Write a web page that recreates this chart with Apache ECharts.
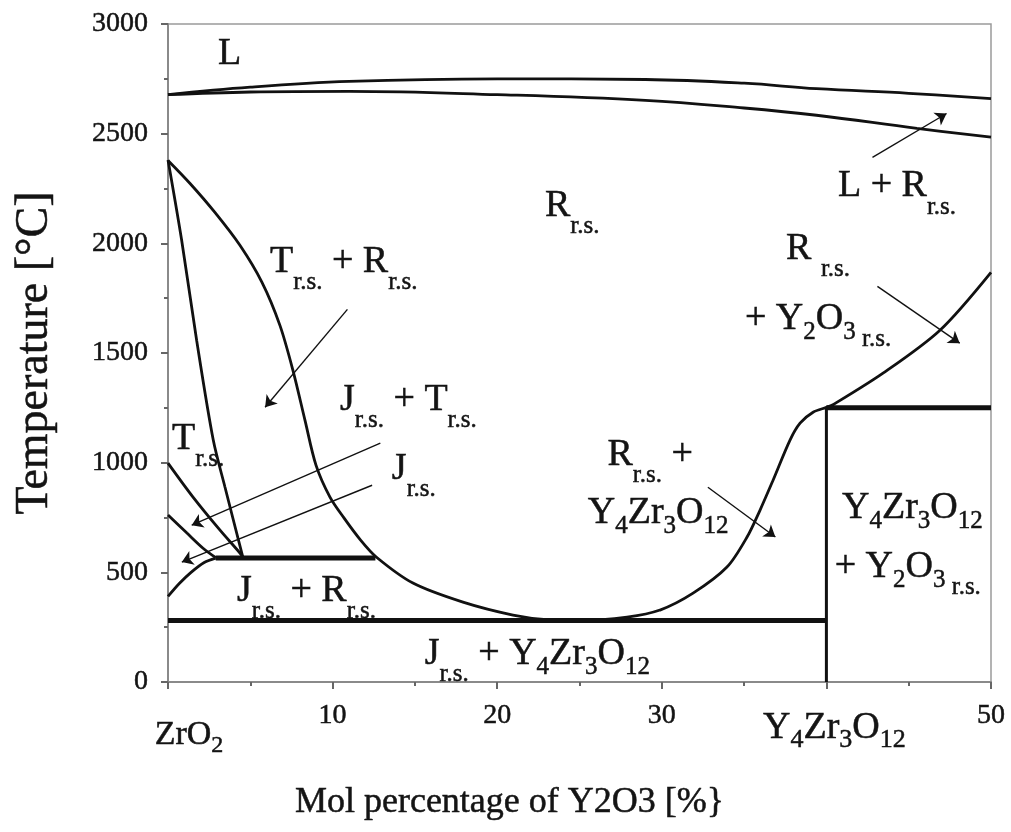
<!DOCTYPE html>
<html>
<head>
<meta charset="utf-8">
<script src="https://cdn.jsdelivr.net/npm/echarts@6.0.0/dist/echarts.min.js"></script>
<style>
  html, body { margin: 0; padding: 0; background: #fff; }
  #chart { width: 1011px; height: 832px; }
</style>
</head>
<body>
<div id="chart"></div>
<script>
// ZrO2 – Y2O3 phase diagram (0–50 mol% Y2O3)
const FONT = '"Liberation Serif", "Times New Roman", serif';

// Liquidus and solidus near the top
const liquidus = [[0, 2678], [5, 2712], [11, 2738], [20, 2750], [29, 2747], [35, 2730], [39.4, 2705], [45, 2684], [50, 2660]];
const solidus  = [[0, 2678], [5, 2690], [11, 2693], [20, 2678], [29, 2652], [35, 2617], [39.4, 2584], [45.5, 2524], [50, 2484]];

// Tetragonal / (T + R) boundary from the ZrO2 corner down to the eutectoid point
const tetragonalBoundary = [[0, 2380], [0.83, 2014], [1.74, 1558], [2.75, 1103], [3.46, 889], [4.55, 568]];

// Cubic (R) solid-solution boundary: down to the minimum, up the S-curve and on to 50 %
const cubicBoundary = [
  [0, 2378], [1.34, 2273], [2.85, 2141], [4.37, 1991], [5.71, 1822], [6.8, 1626], [7.59, 1421],
  [8.32, 1194], [8.99, 989], [9.84, 843], [10.7, 747], [11.7, 647], [12.65, 570], [14.88, 451],
  [17.92, 364], [20.96, 305], [23, 284], [25, 281], [27.89, 296], [29.89, 328], [31.9, 405],
  [33.96, 524], [35.18, 661], [35.97, 784], [36.76, 920], [37.79, 1103], [38.4, 1180],
  [39.19, 1230], [40.04, 1253], [40.4, 1264], [43.44, 1408], [46.9, 1604], [50, 1868]
];

// Low-temperature boundaries near pure ZrO2
const curveT1000 = [[0, 998], [1.52, 843], [3.16, 692], [4.37, 588], [4.55, 568]];
const curveT760  = [[0, 761], [1.15, 679], [2.13, 610], [2.9, 567]];
const curveJ390  = [[0, 390], [0.7, 450], [1.4, 500], [2.2, 545], [2.9, 565]];

// Invariant lines
const eutectoid565 = [[2.9, 565], [12.6, 565]];
const eutectoid280 = [[0, 280], [40, 280]];
const peritectoid1250 = [[40, 1250], [50, 1250]];
const compoundLine = [[40, 0], [40, 1250]];

// Pointer arrows: [start, end]
const arrows = [
  [[42.8, 2392], [47.3, 2592]],
  [[43.1, 1804], [48.1, 1545]],
  [[32.8, 888], [36.9, 661]],
  [[10.9, 1699], [5.9, 1253]],
  [[12.9, 1089], [1.44, 715]],
  [[12.4, 897], [0.84, 547]]
];

// Phase-field labels (top-left corner of each text line)
const fieldLabels = [
  [3.04, 2948, '{m|L}'],
  [22.9, 2255, '{m|R}{s|r.s.}'],
  [6.2, 2000, '{m|T}{s|r.s.}{m| + R}{s|r.s.}'],
  [40.7, 2346, '{m|L + R}{s|r.s.}'],
  [37.55, 2059, '{m|R }{s|r.s.}'],
  [35.05, 1740, '{m|+ Y}{d|2}{m|O}{d|3}{s| r.s.}'],
  [10.45, 1371, '{m|J}{s|r.s.}{m| + T}{s|r.s.}'],
  [13.6, 1057, '{m|J}{s|r.s.}'],
  [0.24, 1194, '{m|T}{s|r.s.}'],
  [26.7, 1121, '{m|R}{s|r.s.}{m| +}'],
  [25.5, 856, '{m|Y}{d|4}{m|Zr}{d|3}{m|O}{d|12}'],
  [40.95, 879, '{m|Y}{d|4}{m|Zr}{d|3}{m|O}{d|12}'],
  [40.5, 610, '{m|+ Y}{d|2}{m|O}{d|3}{s| r.s.}'],
  [4.19, 501, '{m|J}{s|r.s.}{m| + R}{s|r.s.}'],
  [15.6, 214, '{m|J}{s|r.s.}{m| + Y}{d|4}{m|Zr}{d|3}{m|O}{d|12}']
];

const xTickLabels = { 0: '{zr|ZrO}{zrs|2}', 40: '{y0|Y}{ys|4}{y|Zr}{ys|3}{y|O}{ys|12}' };

const INK = '#111';
const TEXT = '#141414';
const AXIS = '#8a8a8a';
// slight outline gives the serif glyphs a heavier print weight
const HEAVY = { textBorderColor: TEXT, textBorderWidth: 0.5 };

function tok(size, lineH, padTop, padLeft) {
  return Object.assign({
    fontFamily: FONT, fontSize: size, lineHeight: lineH, verticalAlign: 'top',
    padding: [padTop || 0, 0, 0, padLeft || 0], color: TEXT
  }, HEAVY);
}

function curve(data, width, smooth) {
  return {
    type: 'line', data: data, showSymbol: false, symbol: 'none',
    smooth: smooth, silent: true, animation: false,
    lineStyle: { color: INK, width: width }
  };
}

const chart = echarts.init(document.getElementById('chart'), null, { renderer: 'canvas' });

chart.setOption({
  backgroundColor: '#fff',
  animation: false,
  grid: {
    left: 168, right: 20, top: 24, bottom: 150,
    show: true, borderColor: '#9a9a9a', borderWidth: 1.5, backgroundColor: 'transparent'
  },
  xAxis: {
    type: 'value', min: 0, max: 50, interval: 10,
    name: 'Mol percentage of Y2O3 [%}',
    nameLocation: 'middle', nameGap: 103,
    nameTextStyle: Object.assign({ fontFamily: FONT, fontSize: 36, color: TEXT, padding: [0, 140, 0, 0] }, HEAVY),
    axisLine: { lineStyle: { color: AXIS, width: 2 } },
    axisTick: { show: true, length: 7, lineStyle: { color: '#666', width: 2 } },
    minorTick: { show: true, splitNumber: 2, length: 4, lineStyle: { color: '#666', width: 2 } },
    splitLine: { show: false },
    axisLabel: {
      margin: 20, hideOverlap: false, color: TEXT, fontFamily: FONT,
      formatter: function (v) { return xTickLabels[v] || '{n|' + v + '}'; },
      rich: {
        n: tok(28, 28),
        zr: tok(34, 34, 16, 42),
        zrs: tok(24, 24, 32),
        y0: tok(38, 38, 7, 16),
        y: tok(38, 38, 7),
        ys: tok(26, 26, 25)
      }
    }
  },
  yAxis: {
    type: 'value', min: 0, max: 3000, interval: 500,
    name: 'Temperature [°C]',
    nameLocation: 'middle', nameGap: 110, nameRotate: 90,
    nameTextStyle: Object.assign({ fontFamily: FONT, fontSize: 46, color: TEXT }, HEAVY),
    axisLine: { show: true, lineStyle: { color: AXIS, width: 2 } },
    axisTick: { show: true, length: 7, lineStyle: { color: '#666', width: 2 } },
    minorTick: { show: true, splitNumber: 2, length: 4, lineStyle: { color: '#666', width: 2 } },
    splitLine: { show: false },
    axisLabel: Object.assign({
      margin: 20, fontFamily: FONT, fontSize: 28, color: TEXT, hideOverlap: false,
      formatter: function (v) { return String(v); }
    }, HEAVY)
  },
  series: [
    curve(liquidus, 2.8, 0.4),
    curve(solidus, 2.8, 0.4),
    curve(tetragonalBoundary, 2.8, 0.3),
    curve(cubicBoundary, 2.8, 0.3),
    curve(curveT1000, 2.8, 0.3),
    curve(curveT760, 2.8, 0.3),
    curve(curveJ390, 2.8, 0.3),
    curve(eutectoid565, 5, false),
    curve(eutectoid280, 5, false),
    curve(peritectoid1250, 5, false),
    curve(compoundLine, 3, false),
    {
      type: 'lines', coordinateSystem: 'cartesian2d', silent: true, animation: false,
      symbol: ['none', 'arrow'], symbolSize: [7, 11],
      lineStyle: { color: INK, width: 1.4, opacity: 1 },
      data: arrows.map(function (a) { return { coords: a }; })
    },
    {
      type: 'scatter', silent: true, animation: false, symbolSize: 0,
      itemStyle: { color: '#000', opacity: 1 },
      data: fieldLabels.map(function (l) {
        return { value: [l[0], l[1]], label: { formatter: l[2] } };
      }),
      label: {
        show: true, position: [0, 0], align: 'left', verticalAlign: 'top',
        color: TEXT, opacity: 1, fontFamily: FONT,
        rich: {
          m: tok(38, 38),
          s: tok(25, 25, 27),
          d: tok(25, 25, 20)
        }
      }
    }
  ]
});
</script>
</body>
</html>
